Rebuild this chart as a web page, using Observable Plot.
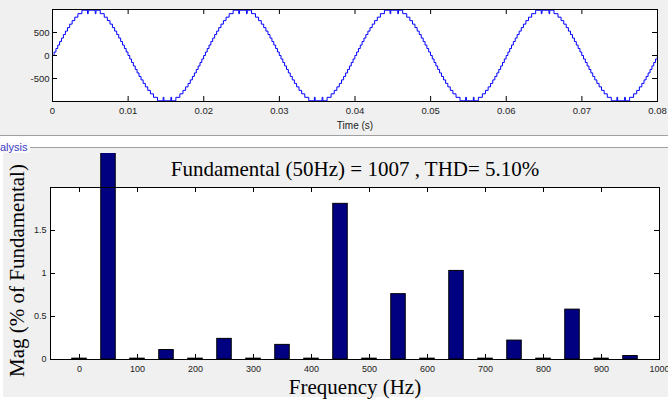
<!DOCTYPE html>
<html>
<head>
<meta charset="utf-8">
<script src="https://cdn.jsdelivr.net/npm/d3@7"></script>
<script src="https://cdn.jsdelivr.net/npm/@observablehq/plot@0.6"></script>
<style>
  html, body { margin: 0; padding: 0; background: #f0f0f0; }
  #root { position: relative; width: 668px; height: 401px; overflow: hidden; background: #f0f0f0; }
  #root svg { position: absolute; left: 0; }
  .sep { position: absolute; height: 1px; background: #a0a0a0; }
  .band { position: absolute; background: #ffffff; }
  #panelTitle { position: absolute; left: 0; top: 142px; font: 11px "Liberation Sans", Arial, sans-serif; line-height: 11px; color: #3a3ac8; background: #fafafa; padding-right: 2px; }
</style>
</head>
<body>
<div id="root">
  <div class="sep" style="left:0;top:135px;width:668px;"></div>
  <div class="band" style="left:0;top:136px;width:668px;height:11px;"></div>
  <div class="sep" style="left:30px;top:147px;width:638px;"></div>
  <div class="band" style="left:0;top:148px;width:3px;height:253px;"></div>
  <div class="band" style="left:0;top:397px;width:668px;height:4px;"></div>
  <div id="panelTitle"></div>
</div>
<script>
// ---------- Data ----------
// One cycle of the stepped output voltage (time in s, value in V)
const cycleTime = [
  0, 0.000218, 0.000456, 0.000695, 0.000937, 0.001185, 0.001440, 0.001705, 0.001982, 0.002276, 0.002595, 0.002948, 0.003359, 0.003889,
  0.004630, 0.004730, 0.005650, 0.005750,
  0.006311, 0.006841, 0.007252, 0.007605, 0.007924, 0.008218, 0.008495, 0.008760, 0.009015, 0.009263, 0.009505, 0.009744, 0.009982,
  0.010218, 0.010456, 0.010695, 0.010937, 0.011185, 0.011440, 0.011705, 0.011982, 0.012276, 0.012595, 0.012948, 0.013359, 0.013889,
  0.014630, 0.014730, 0.015650, 0.015750,
  0.016311, 0.016841, 0.017252, 0.017605, 0.017924, 0.018218, 0.018495, 0.018760, 0.019015, 0.019263, 0.019505, 0.019744, 0.019982
];
const cycleValue = [
  0, 76, 152, 227, 303, 379, 455, 530, 606, 682, 758, 833, 909, 985,
  909, 985, 909, 985,
  909, 833, 758, 682, 606, 530, 455, 379, 303, 227, 152, 76, 0,
  -76, -152, -227, -303, -379, -455, -530, -606, -682, -758, -833, -909, -985,
  -909, -985, -909, -985,
  -909, -833, -758, -682, -606, -530, -455, -379, -303, -227, -152, -76, 0
];
// start time of each of the four 50 Hz cycles shown
const cycleStarts = [0, 0.02, 0.04, 0.06];

const timeTicks = [0, 0.01, 0.02, 0.03, 0.04, 0.05, 0.06, 0.07, 0.08];
const voltTicks = [-500, 0, 500];
const timeLabel = "Time (s)";

// FFT spectrum: harmonic frequency (Hz) and magnitude (% of fundamental)
const harmonicFreq = [0, 50, 100, 150, 200, 250, 300, 350, 400, 450, 500, 550, 600, 650, 700, 750, 800, 850, 900, 950];
const harmonicMag  = [0.01, 100, 0.01, 0.11, 0.01, 0.24, 0.01, 0.17, 0.01, 1.81, 0.01, 0.76, 0.01, 1.03, 0.01, 0.22, 0.01, 0.58, 0.01, 0.04];
const freqTicks = [0, 100, 200, 300, 400, 500, 600, 700, 800, 900, 1000];
const magTicks = [0, 0.5, 1, 1.5];
const fftTitle = "Fundamental (50Hz) = 1007 , THD= 5.10%";
const freqLabel = "Frequency (Hz)";
const magLabel = "Mag (% of Fundamental)";
const panelTitle = "alysis";

// ---------- Build ----------
document.getElementById("panelTitle").textContent = panelTitle;

const wave = [];
for (const s of cycleStarts) {
  for (let i = 0; i < cycleTime.length; i++) wave.push({t: s + cycleTime[i], v: cycleValue[i]});
}
const spectrum = harmonicFreq.map((f, i) => ({f, m: harmonicMag[i]}));

const sans = "'Liberation Sans', Arial, sans-serif";
const serif = "'Liberation Serif', 'Times New Roman', serif";
const fmt = d => String(d);

// Top: scope trace
const W = 668;
const topML = 52, topMR = 11, topMT = 9, topMB = 34, topH = 135;
const topPW = W - topML - topMR, topPH = topH - topMT - topMB;
const tick = 5;

const topPlot = Plot.plot({
  width: W, height: topH,
  marginLeft: topML, marginRight: topMR, marginTop: topMT, marginBottom: topMB,
  style: {background: "transparent", fontFamily: sans, fontSize: "9.5px", color: "#222", overflow: "visible"},
  x: {domain: [0, 0.08]},
  y: {domain: [-1000, 1000]},
  marks: [
    Plot.frame({fill: "white", stroke: null}),
    Plot.line(wave, {x: "t", y: "v", curve: "step-after", stroke: "#0000ff", strokeWidth: 1, clip: true}),
    Plot.ruleX(timeTicks, {insetTop: topPH - tick, stroke: "#000"}),
    Plot.ruleX(timeTicks, {insetBottom: topPH - tick, stroke: "#000"}),
    Plot.ruleY(voltTicks, {insetRight: topPW - tick, stroke: "#000"}),
    Plot.ruleY(voltTicks, {insetLeft: topPW - tick, stroke: "#000"}),
    Plot.axisX(timeTicks, {tickSize: 0, tickPadding: 6, tickFormat: fmt, label: null}),
    Plot.axisY(voltTicks, {tickSize: 0, tickPadding: 3, tickFormat: fmt, label: null}),
    Plot.text([timeLabel], {frameAnchor: "bottom", lineAnchor: "bottom", dy: 27, fontSize: 10, fontFamily: sans, fill: "#222"}),
    Plot.frame({stroke: "#000"})
  ]
});
topPlot.style.top = "0px";
document.getElementById("root").appendChild(topPlot);

// Bottom: FFT bar chart
const botML = 50, botMR = 9, botMT = 34, botMB = 42, botH = 248;
const botPW = W - botML - botMR, botPH = botH - botMT - botMB;
const halfBar = 12.5;

const botPlot = Plot.plot({
  width: W, height: botH,
  marginLeft: botML, marginRight: botMR, marginTop: botMT, marginBottom: botMB,
  style: {background: "transparent", fontFamily: sans, fontSize: "9px", color: "#222", overflow: "hidden"},
  x: {domain: [-50, 1000]},
  y: {domain: [0, 2]},
  marks: [
    Plot.frame({fill: "white", stroke: null}),
    Plot.rectY(spectrum, {x1: d => d.f - halfBar, x2: d => d.f + halfBar, y1: 0, y2: "m", fill: "#000080", stroke: "#000", strokeWidth: 1}),
    Plot.ruleX(freqTicks, {insetTop: botPH - tick, stroke: "#000"}),
    Plot.ruleX(freqTicks, {insetBottom: botPH - tick, stroke: "#000"}),
    Plot.ruleY(magTicks, {insetRight: botPW - tick, stroke: "#000"}),
    Plot.ruleY(magTicks, {insetLeft: botPW - tick, stroke: "#000"}),
    Plot.axisX(freqTicks, {tickSize: 0, tickPadding: 6, tickFormat: fmt, label: null}),
    Plot.axisY(magTicks, {tickSize: 0, tickPadding: 4, tickFormat: fmt, label: null}),
    Plot.text([fftTitle], {frameAnchor: "top", lineAnchor: "bottom", dy: -12, fontSize: 21, fontFamily: serif, fill: "#000"}),
    Plot.text([freqLabel], {frameAnchor: "bottom", lineAnchor: "bottom", dy: 34, fontSize: 21, fontFamily: serif, fill: "#000"}),
    Plot.text([magLabel], {frameAnchor: "left", textAnchor: "middle", lineAnchor: "bottom", rotate: -90, dx: -27, dy: -3, fontSize: 21, fontFamily: serif, fill: "#000"}),
    Plot.frame({stroke: "#000"})
  ]
});
botPlot.style.top = "153px";
document.getElementById("root").appendChild(botPlot);
</script>
</body>
</html>
